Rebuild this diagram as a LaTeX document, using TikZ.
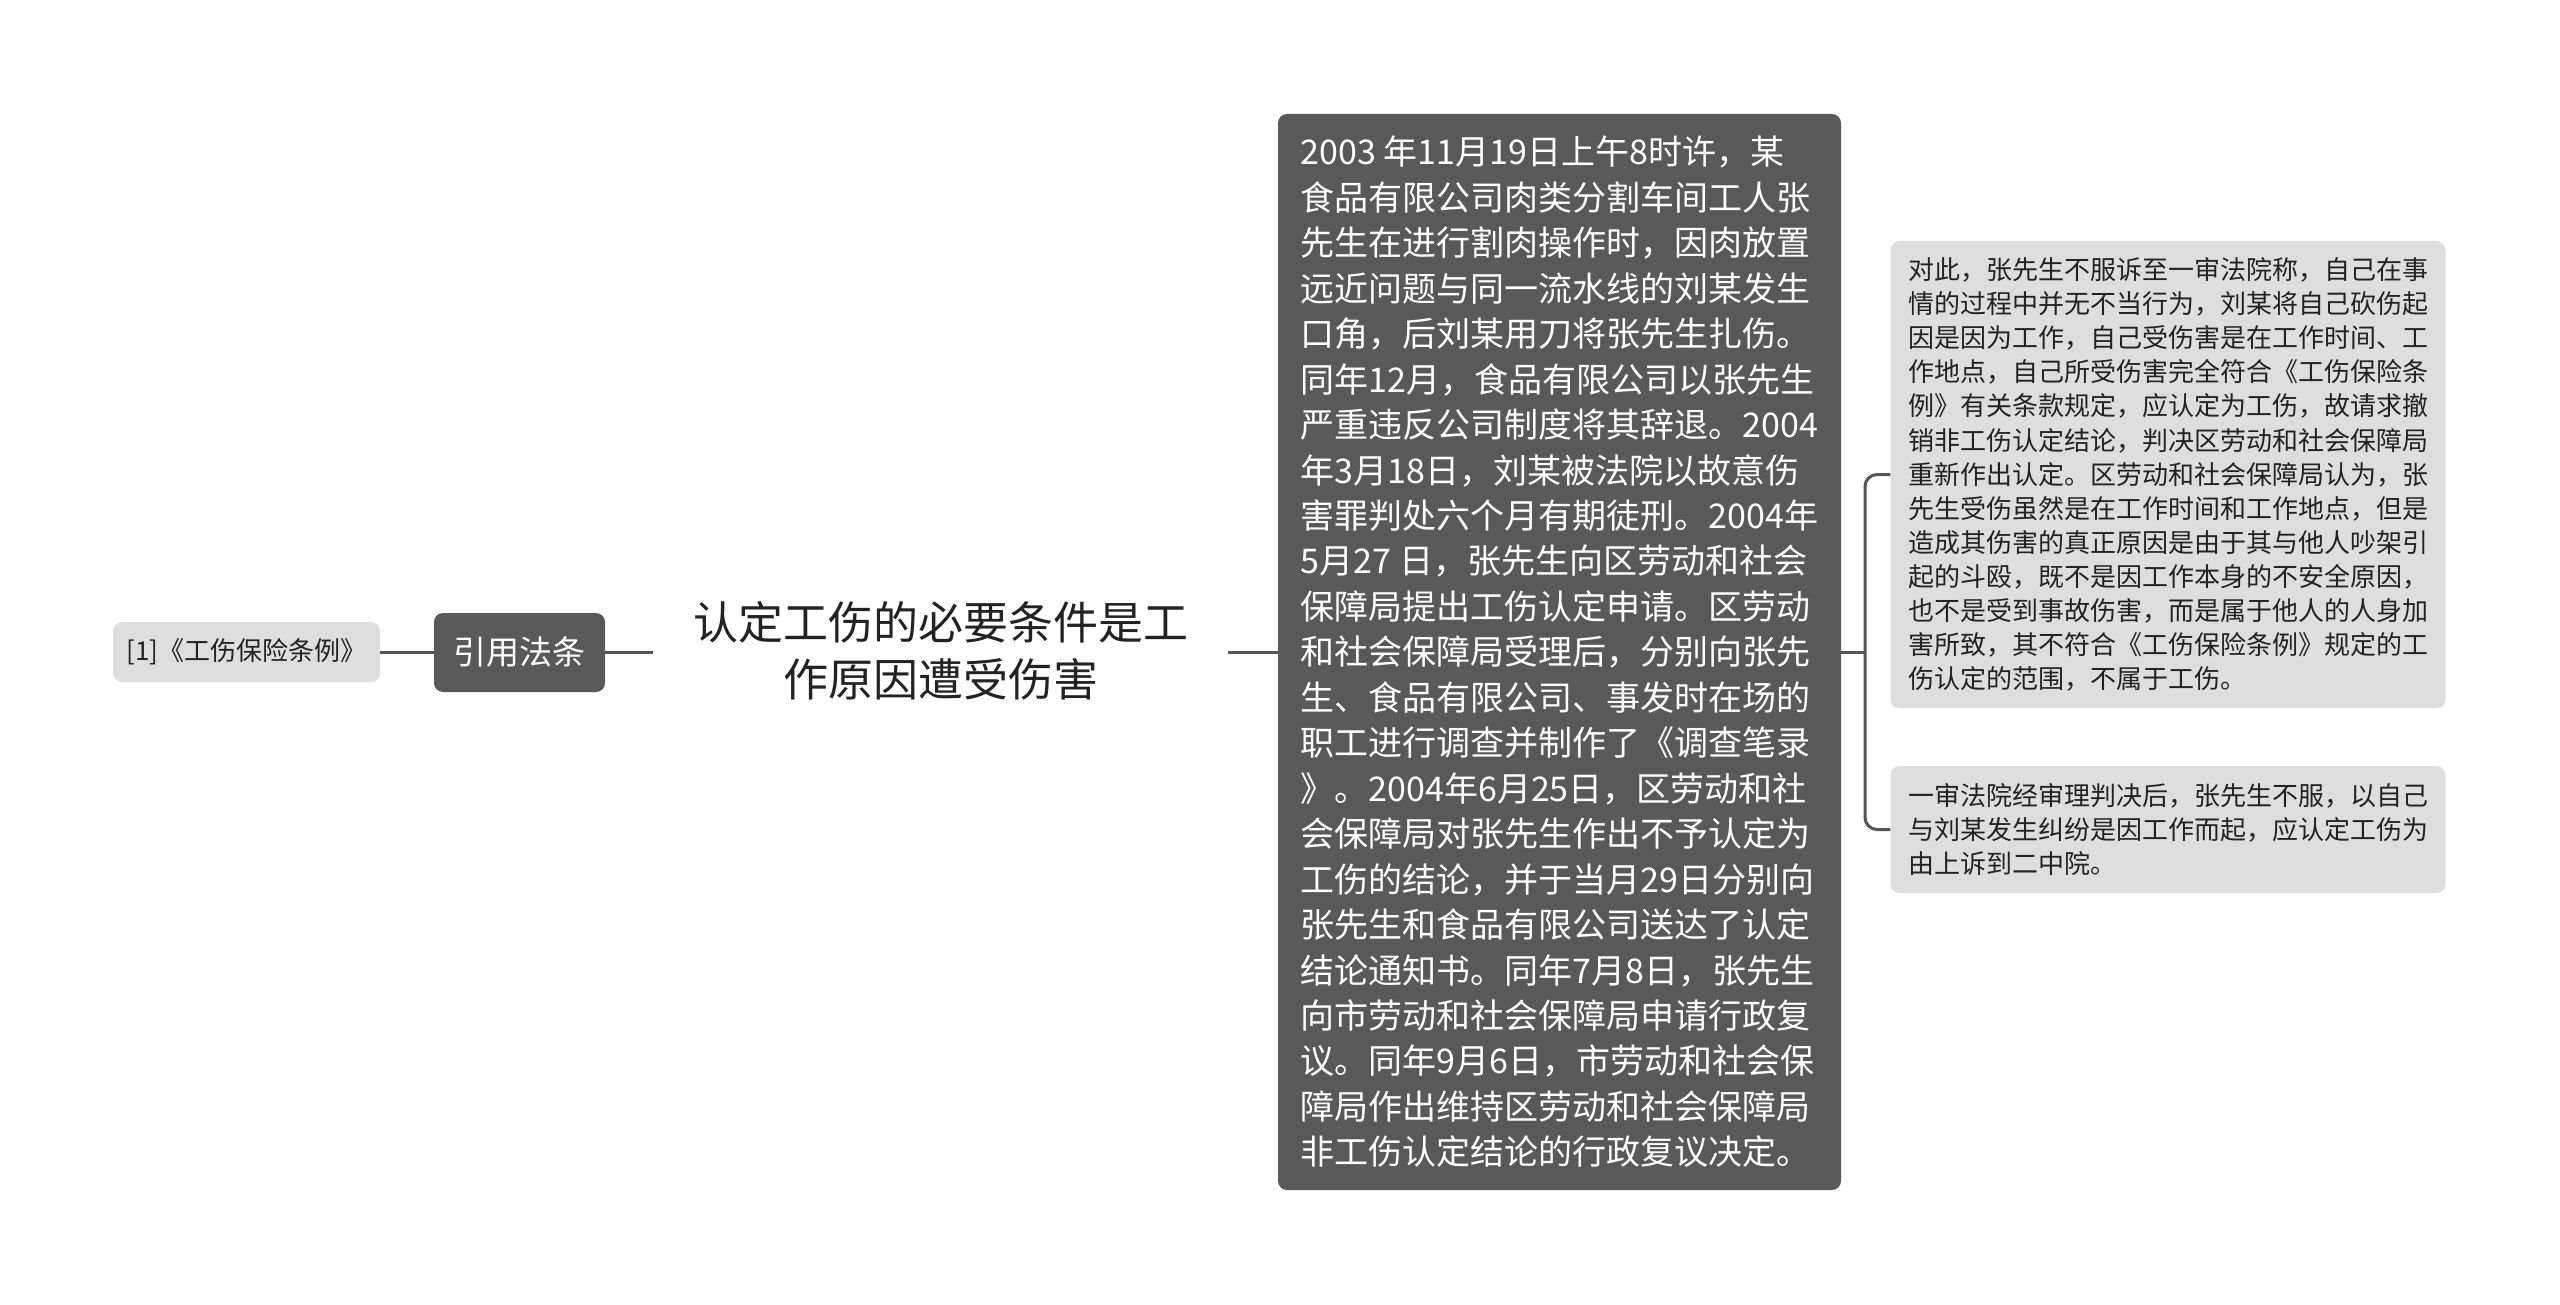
\documentclass[tikz,border=0pt]{standalone}
\usepackage{fontspec}
\newfontfamily\cjk{Noto Sans CJK SC}
\definecolor{darkbox}{HTML}{595959}
\definecolor{lightbox}{HTML}{DEDEDE}
\definecolor{linec}{HTML}{555555}
\definecolor{txt}{HTML}{222222}
\begin{document}
\begin{tikzpicture}[x=1pt,y=-1pt,
  darknode/.style={fill=darkbox, rounded corners=9pt, text=white, inner sep=0pt, align=left},
  lightnode/.style={fill=lightbox, rounded corners=9pt, text=txt, inner sep=0pt, align=left},
  conn/.style={draw=linec, line width=3pt}]
\useasboundingbox (0,0) rectangle (2560,1305);

\node[lightnode, minimum width=267pt, minimum height=60pt,
      font=\cjk\fontsize{26pt}{30pt}\selectfont] (law) at (246.5,652) {[1]《工伤保险条例》};
\node[darknode, minimum width=171pt, minimum height=79pt,
      font=\cjk\fontsize{33pt}{40pt}\selectfont] (cite) at (519.5,652.5) {引用法条};
\node[align=center, text=txt, inner sep=0pt, minimum width=575pt,
      font=\cjk\fontsize{45pt}{57pt}\selectfont] (root) at (940.5,650.5)
      {认定工伤的必要条件是工\\作原因遭受伤害};
\node[darknode, minimum width=563pt, minimum height=1076pt,
      font=\cjk\fontsize{34pt}{45.45pt}\selectfont] (story) at (1559.5,652)
{2003 年11月19日上午8时许，某\\
食品有限公司肉类分割车间工人张\\
先生在进行割肉操作时，因肉放置\\
远近问题与同一流水线的刘某发生\\
口角，后刘某用刀将张先生扎伤。\\
同年12月，食品有限公司以张先生\\
严重违反公司制度将其辞退。2004\\
年3月18日，刘某被法院以故意伤\\
害罪判处六个月有期徒刑。2004年\\
5月27 日，张先生向区劳动和社会\\
保障局提出工伤认定申请。区劳动\\
和社会保障局受理后，分别向张先\\
生、食品有限公司、事发时在场的\\
职工进行调查并制作了《调查笔录\\
》。2004年6月25日，区劳动和社\\
会保障局对张先生作出不予认定为\\
工伤的结论，并于当月29日分别向\\
张先生和食品有限公司送达了认定\\
结论通知书。同年7月8日，张先生\\
向市劳动和社会保障局申请行政复\\
议。同年9月6日，市劳动和社会保\\
障局作出维持区劳动和社会保障局\\
非工伤认定结论的行政复议决定。};
\node[lightnode, minimum width=555pt, minimum height=467pt,
      font=\cjk\fontsize{26pt}{34.1pt}\selectfont] (r1) at (2168,474.5)
{对此，张先生不服诉至一审法院称，自己在事\\
情的过程中并无不当行为，刘某将自己砍伤起\\
因是因为工作，自己受伤害是在工作时间、工\\
作地点，自己所受伤害完全符合《工伤保险条\\
例》有关条款规定，应认定为工伤，故请求撤\\
销非工伤认定结论，判决区劳动和社会保障局\\
重新作出认定。区劳动和社会保障局认为，张\\
先生受伤虽然是在工作时间和工作地点，但是\\
造成其伤害的真正原因是由于其与他人吵架引\\
起的斗殴，既不是因工作本身的不安全原因，\\
也不是受到事故伤害，而是属于他人的人身加\\
害所致，其不符合《工伤保险条例》规定的工\\
伤认定的范围，不属于工伤。};
\node[lightnode, minimum width=555pt, minimum height=127pt,
      font=\cjk\fontsize{26pt}{34pt}\selectfont] (r2) at (2168,829.5)
{一审法院经审理判决后，张先生不服，以自己\\
与刘某发生纠纷是因工作而起，应认定工伤为\\
由上诉到二中院。};
\coordinate (j) at (1865,652);
\draw[conn] (law.east) -- (law.east -| cite.west);
\draw[conn] (story.west -| cite.east) -- (story.west -| root.west);
\draw[conn] (story.west -| root.east) -- (story.west);
\draw[conn] (story.east |- j) -- (j);
\draw[conn, rounded corners=12pt] (r1.west) -| (j) |- (r2.west);
\end{tikzpicture}
\end{document}
